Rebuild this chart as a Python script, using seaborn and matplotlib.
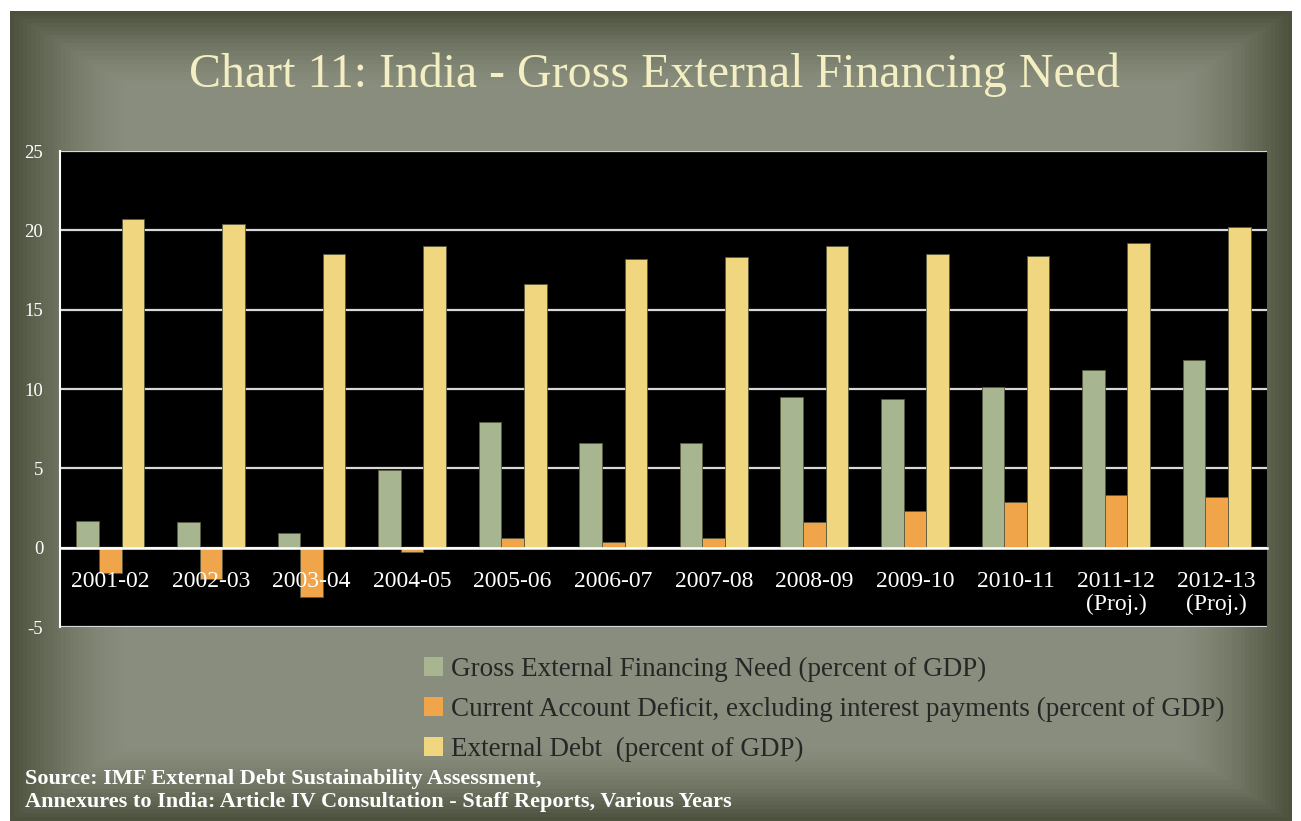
import numpy as np
import pandas as pd
import seaborn as sns
import matplotlib.pyplot as plt
from matplotlib.patches import Patch

categories = ["2001-02", "2002-03", "2003-04", "2004-05", "2005-06", "2006-07",
              "2007-08", "2008-09", "2009-10", "2010-11", "2011-12\n(Proj.)", "2012-13\n(Proj.)"]
gross_need = [1.7, 1.6, 0.9, 4.9, 7.9, 6.6, 6.6, 9.5, 9.4, 10.1, 11.2, 11.8]
cad_ex_interest = [-1.6, -2.0, -3.1, -0.3, 0.6, 0.35, 0.6, 1.6, 2.3, 2.9, 3.3, 3.2]
external_debt = [20.7, 20.4, 18.5, 19.0, 16.6, 18.2, 18.3, 19.0, 18.5, 18.4, 19.2, 20.2]
series_names = ["Gross External Financing Need (percent of GDP)",
                "Current Account Deficit, excluding interest payments (percent of GDP)",
                "External Debt  (percent of GDP)"]
colors = ["#a7b591", "#f0a54a", "#f0d67f"]
y_ticks = [-5, 0, 5, 10, 15, 20, 25]

df = pd.DataFrame({
    "category": categories * 3,
    "value": gross_need + cad_ex_interest + external_debt,
    "series": [series_names[0]] * 12 + [series_names[1]] * 12 + [series_names[2]] * 12,
})

sns.set_theme(style="white")
plt.rcParams['font.family'] = ['Liberation Serif', 'DejaVu Serif']

W, H = 1301, 821
fig = plt.figure(figsize=(W / 100, H / 100), dpi=100, facecolor="white")

# textured-ish background panel
bg = fig.add_axes([0, 0, 1, 1], zorder=-10)
yy, xx = np.mgrid[0:1:200j, 0:1:300j]
d = np.maximum(np.abs(xx - 0.5) / 0.5, np.abs(yy - 0.5) / 0.5)
shade = np.clip((d - 0.82) / 0.18, 0, 1) ** 1.5
c_in = np.array([0x89, 0x8d, 0x7d]) / 255
c_out = np.array([0x4c, 0x52, 0x3e]) / 255
img = c_in[None, None, :] * (1 - shade[..., None]) + c_out[None, None, :] * shade[..., None]
bg.imshow(img, extent=[10 / W, 1292 / W, 0, 1 - 12 / H], aspect="auto", zorder=0)
bg.set_xlim(0, 1)
bg.set_ylim(0, 1)
bg.axis("off")

ax = fig.add_axes([60 / W, 1 - 627 / H, (1267 - 60) / W, (627 - 151) / H])
ax.set_facecolor("black")
sns.barplot(data=df, x="category", y="value", hue="series", palette=colors,
            width=0.675, gap=0, ax=ax, edgecolor="#5a5a40", linewidth=0.6,
            saturation=1, legend=False, zorder=3)

ax.set_ylim(-5, 25)
ax.set_xlim(-0.5, len(categories) - 0.5)
ax.set_yticks(y_ticks)
ax.set_yticklabels([str(t) for t in y_ticks], color="white", fontsize=13.5)
ax.grid(axis="y", color="#d8d8d8", linewidth=1.6, zorder=1)
ax.grid(axis="x", visible=False)
ax.set_xlabel("")
ax.set_ylabel("")

for s in ["top", "right"]:
    ax.spines[s].set_visible(False)
ax.spines["left"].set_color("white")
ax.spines["left"].set_linewidth(1.5)
ax.spines["bottom"].set_position(("data", 0))
ax.spines["bottom"].set_color("white")
ax.spines["bottom"].set_linewidth(1.8)
ax.spines["bottom"].set_zorder(4)
ax.xaxis.set_zorder(5)

ax.tick_params(axis="y", colors="white", length=6, width=1.2, direction="out", pad=6)
ax.tick_params(axis="x", which="major", length=0, pad=17, labelsize=17, labelcolor="white")
ax.set_xticks(np.arange(-0.5, len(categories), 1.0), minor=True)
ax.tick_params(axis="x", which="minor", length=7, width=1.2, color="white", direction="out")
ax.set_xticklabels(categories, color="white", fontsize=17, linespacing=1.1)
for lab in ax.get_yticklabels():
    lab.set_color("white")

fig.text(0.503, 1 - 75 / H, "Chart 11: India - Gross External Financing Need",
         ha="center", va="center", fontsize=34.5, color="#f4efc2")

handles = [Patch(facecolor=c, edgecolor="none") for c in colors]
fig.legend(handles, series_names, loc="upper left",
           bbox_to_anchor=(410 / W, 1 - 643 / H), frameon=False,
           fontsize=19.5, labelcolor="#262626", handlelength=0.7, handleheight=0.7,
           handletextpad=0.3, labelspacing=0.55, borderpad=0)

fig.text(25 / W, 1 - 779 / H, "Source: IMF External Debt Sustainability Assessment,",
         ha="left", va="center", fontsize=16, color="white", fontweight="bold")
fig.text(25 / W, 1 - 802 / H,
         "Annexures to India: Article IV Consultation - Staff Reports, Various Years",
         ha="left", va="center", fontsize=16, color="white", fontweight="bold")

fig.savefig("out.png", dpi=100, facecolor=fig.get_facecolor())
